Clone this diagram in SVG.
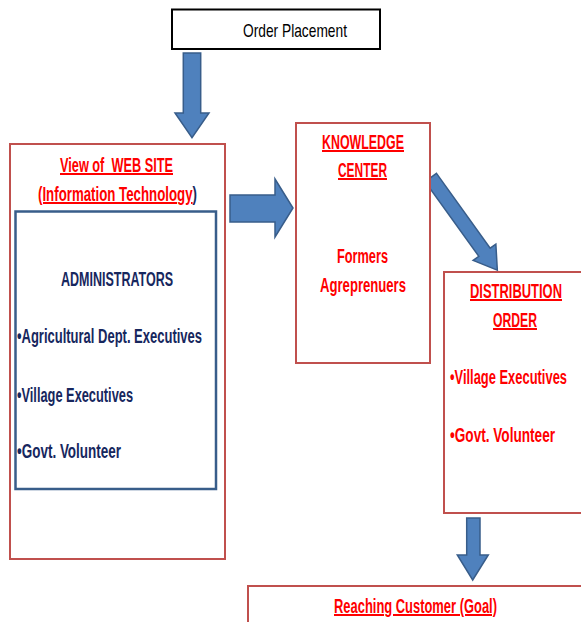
<svg xmlns="http://www.w3.org/2000/svg" width="581" height="622" viewBox="0 0 581 622">
<style>
.bg{fill:#ffffff}
.red{fill:#ffffff;stroke:#C0504D;stroke-width:2}
.blue{fill:none;stroke:#385D8A;stroke-width:2.5}
.blk{fill:#ffffff;stroke:#000000;stroke-width:2}
.arr{fill:#4F81BD;stroke:#385D8A;stroke-width:1.5;stroke-linejoin:miter}
text{font-family:"Liberation Sans Narrow","Liberation Sans",Arial,sans-serif;font-size:20px;white-space:pre}
.t{font-weight:bold;fill:#FF0000}
.u{text-decoration:underline}
.n{font-weight:bold;fill:#17275E}
.o{fill:#000000;font-size:19px}
</style>
<rect class="bg" x="0" y="0" width="581" height="622"/>
<g id="connectors">
  <polygon class="arr" points="183.3,53 200.7,53 200.7,113 209,113 192,137.7 175,113 183.3,113"/>
  <polygon class="arr" points="230,195 275,195 275,179 293,208 275,237 275,222 230,222"/>
  <polygon class="arr" transform="translate(430.8,177.5) rotate(54.3)" points="0,-7 92,-7 92,-14 114,0 92,14 92,7 0,7"/>
  <polygon class="arr" points="466.7,518 480,518 480,555 488.3,555 472.7,580 457.3,555 466.7,555"/>
</g>
<g id="order-placement">
  <rect class="blk" x="172" y="9.5" width="208" height="39.5"/>
  <text class="o" x="243" y="37" textLength="104" lengthAdjust="spacingAndGlyphs">Order Placement</text>
</g>
<g id="web-site">
  <rect class="red" x="10" y="144" width="215" height="415"/>
  <text class="t u" x="60" y="172" textLength="113" lengthAdjust="spacingAndGlyphs">View of  WEB SITE</text>
  <text x="38" y="201" textLength="159" lengthAdjust="spacingAndGlyphs"><tspan class="t u">(Information Technology</tspan><tspan class="n u">)</tspan></text>
  <g id="administrators">
    <rect class="blue" x="15.5" y="211.5" width="200.5" height="277.5"/>
    <text class="n" x="61" y="286" textLength="112" lengthAdjust="spacingAndGlyphs">ADMINISTRATORS</text>
    <text class="n" x="17" y="343" textLength="185" lengthAdjust="spacingAndGlyphs">•Agricultural Dept. Executives</text>
    <text class="n" x="17" y="402" textLength="116" lengthAdjust="spacingAndGlyphs">•Village Executives</text>
    <text class="n" x="17" y="458" textLength="104" lengthAdjust="spacingAndGlyphs">•Govt. Volunteer</text>
  </g>
</g>
<g id="knowledge-center">
  <rect class="red" x="296" y="123" width="134" height="240"/>
  <text class="t u" x="322" y="149" textLength="82" lengthAdjust="spacingAndGlyphs">KNOWLEDGE</text>
  <text class="t u" x="338" y="177" textLength="49" lengthAdjust="spacingAndGlyphs">CENTER</text>
  <text class="t" x="337" y="263" textLength="51" lengthAdjust="spacingAndGlyphs">Formers</text>
  <text class="t" x="320" y="292" textLength="86" lengthAdjust="spacingAndGlyphs">Agreprenuers</text>
</g>
<g id="distribution-order">
  <rect class="red" x="444" y="272" width="145" height="241"/>
  <text class="t u" x="470" y="298" textLength="92" lengthAdjust="spacingAndGlyphs">DISTRIBUTION</text>
  <text class="t u" x="493" y="327" textLength="44" lengthAdjust="spacingAndGlyphs">ORDER</text>
  <text class="t" x="450" y="384" textLength="117" lengthAdjust="spacingAndGlyphs">•Village Executives</text>
  <text class="t" x="450" y="442" textLength="105" lengthAdjust="spacingAndGlyphs">•Govt. Volunteer</text>
</g>
<g id="reaching-customer">
  <rect class="red" x="248" y="586" width="345" height="50"/>
  <text class="t u" x="334" y="613" textLength="163" lengthAdjust="spacingAndGlyphs">Reaching Customer (Goal)</text>
</g>
</svg>
